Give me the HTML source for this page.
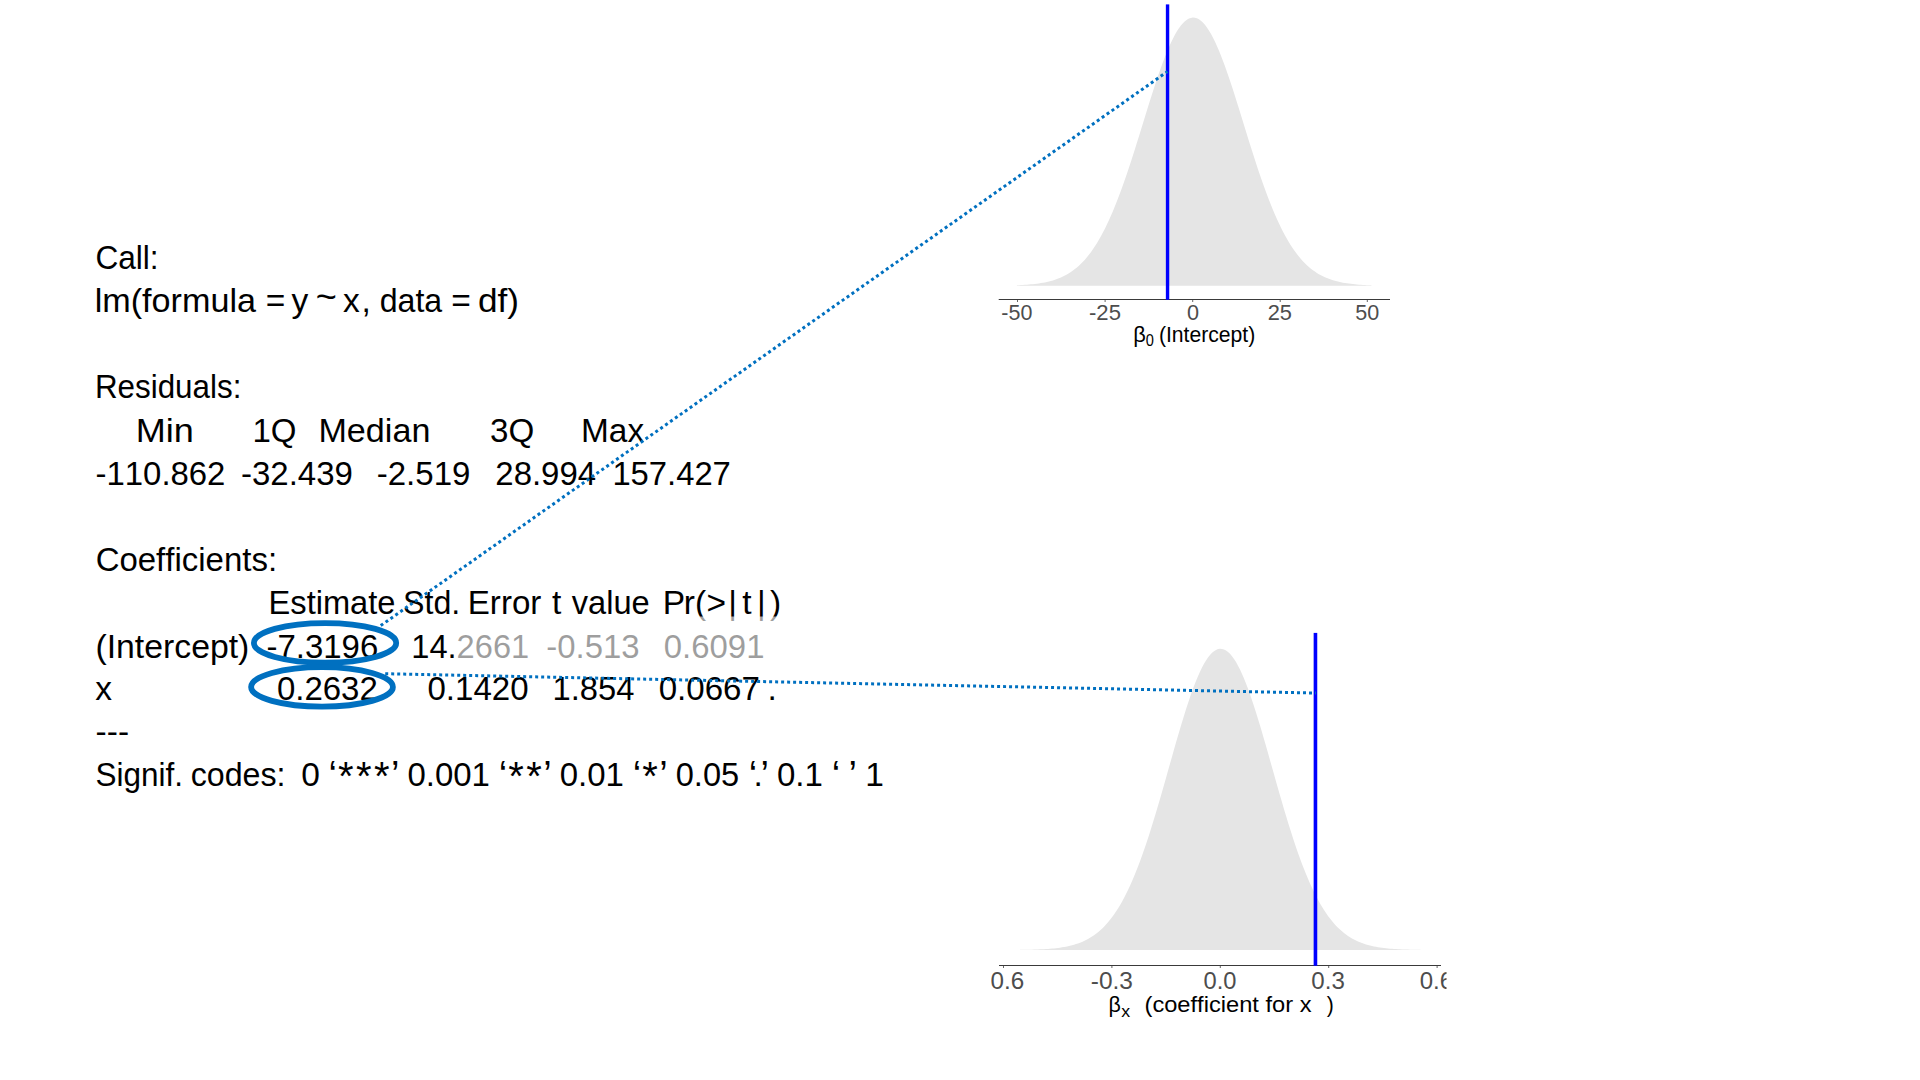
<!DOCTYPE html>
<html lang="en"><head><meta charset="utf-8"><title>lm summary</title>
<style>
html,body{margin:0;padding:0;background:#fff;width:1920px;height:1080px;overflow:hidden}
svg{position:absolute;left:0;top:0;display:block}
text{font-family:"Liberation Sans",sans-serif;font-kerning:none;white-space:pre}
</style></head><body>
<svg width="1920" height="1080" viewBox="0 0 1920 1080">
<defs><clipPath id="c2"><rect x="991" y="620" width="455.5" height="420"/></clipPath></defs>
<g id="charts">
<path d="M1016.9,285.80 L1016.9,285.24 L1018.9,285.15 L1020.9,285.06 L1022.9,284.95 L1024.9,284.83 L1026.9,284.69 L1028.9,284.53 L1030.9,284.36 L1032.9,284.16 L1034.9,283.94 L1036.9,283.69 L1038.9,283.42 L1040.9,283.11 L1042.9,282.77 L1044.9,282.39 L1046.9,281.96 L1048.9,281.49 L1050.9,280.97 L1052.9,280.40 L1054.9,279.77 L1056.9,279.08 L1058.9,278.31 L1060.9,277.48 L1062.9,276.56 L1064.9,275.57 L1066.9,274.48 L1068.9,273.29 L1070.9,272.01 L1072.9,270.61 L1074.9,269.11 L1076.9,267.48 L1078.9,265.72 L1080.9,263.83 L1082.9,261.80 L1084.9,259.63 L1086.9,257.30 L1088.9,254.82 L1090.9,252.17 L1092.9,249.36 L1094.9,246.37 L1096.9,243.20 L1098.9,239.86 L1100.9,236.33 L1102.9,232.61 L1104.9,228.70 L1106.9,224.61 L1108.9,220.32 L1110.9,215.85 L1112.9,211.18 L1114.9,206.34 L1116.9,201.31 L1118.9,196.10 L1120.9,190.73 L1122.9,185.20 L1124.9,179.51 L1126.9,173.68 L1128.9,167.71 L1130.9,161.63 L1132.9,155.44 L1134.9,149.16 L1136.9,142.80 L1138.9,136.39 L1140.9,129.93 L1142.9,123.45 L1144.9,116.97 L1146.9,110.52 L1148.9,104.10 L1150.9,97.75 L1152.9,91.48 L1154.9,85.33 L1156.9,79.30 L1158.9,73.44 L1160.9,67.75 L1162.9,62.26 L1164.9,57.00 L1166.9,51.99 L1168.9,47.25 L1170.9,42.80 L1172.9,38.66 L1174.9,34.84 L1176.9,31.37 L1178.9,28.26 L1180.9,25.53 L1182.9,23.19 L1184.9,21.24 L1186.9,19.70 L1188.9,18.58 L1190.9,17.88 L1192.9,17.60 L1194.9,17.75 L1196.9,18.33 L1198.9,19.32 L1200.9,20.74 L1202.9,22.56 L1204.9,24.79 L1206.9,27.40 L1208.9,30.40 L1210.9,33.76 L1212.9,37.48 L1214.9,41.52 L1216.9,45.88 L1218.9,50.54 L1220.9,55.47 L1222.9,60.66 L1224.9,66.08 L1226.9,71.71 L1228.9,77.52 L1230.9,83.50 L1232.9,89.62 L1234.9,95.86 L1236.9,102.19 L1238.9,108.59 L1240.9,115.03 L1242.9,121.51 L1244.9,127.99 L1246.9,134.45 L1248.9,140.88 L1250.9,147.26 L1252.9,153.56 L1254.9,159.78 L1256.9,165.90 L1258.9,171.90 L1260.9,177.77 L1262.9,183.51 L1264.9,189.09 L1266.9,194.51 L1268.9,199.77 L1270.9,204.85 L1272.9,209.75 L1274.9,214.47 L1276.9,219.00 L1278.9,223.34 L1280.9,227.49 L1282.9,231.46 L1284.9,235.23 L1286.9,238.82 L1288.9,242.22 L1290.9,245.44 L1292.9,248.48 L1294.9,251.35 L1296.9,254.04 L1298.9,256.58 L1300.9,258.95 L1302.9,261.17 L1304.9,263.24 L1306.9,265.17 L1308.9,266.96 L1310.9,268.63 L1312.9,270.17 L1314.9,271.60 L1316.9,272.92 L1318.9,274.13 L1320.9,275.25 L1322.9,276.27 L1324.9,277.21 L1326.9,278.07 L1328.9,278.85 L1330.9,279.57 L1332.9,280.22 L1334.9,280.81 L1336.9,281.34 L1338.9,281.83 L1340.9,282.26 L1342.9,282.66 L1344.9,283.01 L1346.9,283.33 L1348.9,283.61 L1350.9,283.87 L1352.9,284.10 L1354.9,284.30 L1356.9,284.48 L1358.9,284.64 L1360.9,284.79 L1362.9,284.91 L1364.9,285.03 L1366.9,285.13 L1368.9,285.21 L1370.9,285.29 L1371.9,285.80 Z" fill="#E5E5E5"/>
<rect x="998.7" y="299" width="391.3" height="1" fill="#3a3a3a"/>
<rect x="1017.0" y="300" width="1" height="2" fill="#666"/>
<rect x="1104.6" y="300" width="1" height="2" fill="#666"/>
<rect x="1192.2" y="300" width="1" height="2" fill="#666"/>
<rect x="1279.7" y="300" width="1" height="2" fill="#666"/>
<rect x="1366.8" y="300" width="1" height="2" fill="#666"/>
<rect x="1165.85" y="4.4" width="3.4" height="295.4" fill="#0000FF"/>
<path d="M1020.0,950.00 L1020.0,949.85 L1022.0,949.82 L1024.0,949.79 L1026.0,949.76 L1028.0,949.72 L1030.0,949.68 L1032.0,949.63 L1034.0,949.57 L1036.0,949.51 L1038.0,949.43 L1040.0,949.35 L1042.0,949.26 L1044.0,949.15 L1046.0,949.03 L1048.0,948.90 L1050.0,948.74 L1052.0,948.57 L1054.0,948.38 L1056.0,948.17 L1058.0,947.93 L1060.0,947.66 L1062.0,947.36 L1064.0,947.02 L1066.0,946.65 L1068.0,946.24 L1070.0,945.79 L1072.0,945.29 L1074.0,944.73 L1076.0,944.12 L1078.0,943.45 L1080.0,942.71 L1082.0,941.90 L1084.0,941.02 L1086.0,940.05 L1088.0,939.00 L1090.0,937.85 L1092.0,936.60 L1094.0,935.25 L1096.0,933.79 L1098.0,932.20 L1100.0,930.50 L1102.0,928.66 L1104.0,926.68 L1106.0,924.56 L1108.0,922.28 L1110.0,919.85 L1112.0,917.26 L1114.0,914.49 L1116.0,911.55 L1118.0,908.43 L1120.0,905.13 L1122.0,901.63 L1124.0,897.94 L1126.0,894.05 L1128.0,889.97 L1130.0,885.68 L1132.0,881.19 L1134.0,876.49 L1136.0,871.60 L1138.0,866.50 L1140.0,861.21 L1142.0,855.72 L1144.0,850.05 L1146.0,844.19 L1148.0,838.16 L1150.0,831.97 L1152.0,825.62 L1154.0,819.12 L1156.0,812.50 L1158.0,805.75 L1160.0,798.90 L1162.0,791.97 L1164.0,784.97 L1166.0,777.91 L1168.0,770.83 L1170.0,763.74 L1172.0,756.65 L1174.0,749.60 L1176.0,742.60 L1178.0,735.69 L1180.0,728.88 L1182.0,722.19 L1184.0,715.66 L1186.0,709.30 L1188.0,703.14 L1190.0,697.21 L1192.0,691.52 L1194.0,686.10 L1196.0,680.98 L1198.0,676.17 L1200.0,671.70 L1202.0,667.57 L1204.0,663.82 L1206.0,660.46 L1208.0,657.49 L1210.0,654.95 L1212.0,652.83 L1214.0,651.14 L1216.0,649.90 L1218.0,649.10 L1220.0,648.76 L1222.0,648.88 L1224.0,649.44 L1226.0,650.46 L1228.0,651.93 L1230.0,653.83 L1232.0,656.17 L1234.0,658.92 L1236.0,662.09 L1238.0,665.65 L1240.0,669.59 L1242.0,673.89 L1244.0,678.54 L1246.0,683.50 L1248.0,688.78 L1250.0,694.33 L1252.0,700.14 L1254.0,706.19 L1256.0,712.45 L1258.0,718.90 L1260.0,725.52 L1262.0,732.27 L1264.0,739.14 L1266.0,746.09 L1268.0,753.12 L1270.0,760.19 L1272.0,767.28 L1274.0,774.37 L1276.0,781.45 L1278.0,788.48 L1280.0,795.45 L1282.0,802.34 L1284.0,809.14 L1286.0,815.82 L1288.0,822.39 L1290.0,828.81 L1292.0,835.09 L1294.0,841.20 L1296.0,847.14 L1298.0,852.91 L1300.0,858.49 L1302.0,863.88 L1304.0,869.07 L1306.0,874.07 L1308.0,878.86 L1310.0,883.46 L1312.0,887.85 L1314.0,892.03 L1316.0,896.02 L1318.0,899.81 L1320.0,903.40 L1322.0,906.80 L1324.0,910.02 L1326.0,913.05 L1328.0,915.90 L1330.0,918.58 L1332.0,921.09 L1334.0,923.44 L1336.0,925.64 L1338.0,927.69 L1340.0,929.59 L1342.0,931.37 L1344.0,933.01 L1346.0,934.53 L1348.0,935.94 L1350.0,937.24 L1352.0,938.43 L1354.0,939.53 L1356.0,940.54 L1358.0,941.47 L1360.0,942.31 L1362.0,943.09 L1364.0,943.79 L1366.0,944.43 L1368.0,945.01 L1370.0,945.54 L1372.0,946.02 L1374.0,946.45 L1376.0,946.84 L1378.0,947.19 L1380.0,947.51 L1382.0,947.79 L1384.0,948.05 L1386.0,948.28 L1388.0,948.48 L1390.0,948.66 L1392.0,948.82 L1394.0,948.97 L1396.0,949.09 L1398.0,949.21 L1400.0,949.31 L1402.0,949.39 L1404.0,949.47 L1406.0,949.54 L1408.0,949.60 L1410.0,949.65 L1412.0,949.70 L1414.0,949.74 L1416.0,949.78 L1418.0,949.81 L1420.0,949.83 L1421.0,950.00 Z" fill="#E5E5E5"/>
<rect x="999" y="965" width="442" height="1" fill="#3a3a3a"/>
<rect x="1003.0" y="966" width="1" height="2" fill="#666"/>
<rect x="1111.4" y="966" width="1" height="2" fill="#666"/>
<rect x="1219.8" y="966" width="1" height="2" fill="#666"/>
<rect x="1328.2" y="966" width="1" height="2" fill="#666"/>
<rect x="1436.6" y="966" width="1" height="2" fill="#666"/>
<rect x="1313.65" y="632.9" width="3.6" height="332.9" fill="#0000FF"/>
<text x="1001.30" y="320.00" font-size="21.4" textLength="31.04" lengthAdjust="spacingAndGlyphs" fill="#4D4D4D">-50</text>
<text x="1089.02" y="320.00" font-size="21.4" textLength="31.91" lengthAdjust="spacingAndGlyphs" fill="#4D4D4D">-25</text>
<text x="1186.90" y="320.00" font-size="21.4" textLength="12.04" lengthAdjust="spacingAndGlyphs" fill="#4D4D4D">0</text>
<text x="1267.65" y="320.00" font-size="21.4" textLength="24.26" lengthAdjust="spacingAndGlyphs" fill="#4D4D4D">25</text>
<text x="1355.39" y="320.00" font-size="21.4" textLength="23.95" lengthAdjust="spacingAndGlyphs" fill="#4D4D4D">50</text>
<text x="1133.28" y="341.95" font-size="21.6" textLength="12.58" lengthAdjust="spacingAndGlyphs" fill="#000">β</text>
<text x="1145.63" y="345.80" font-size="15.6" textLength="8.14" lengthAdjust="spacingAndGlyphs" fill="#000">0</text>
<text x="1158.89" y="341.95" font-size="21.6" textLength="96.42" lengthAdjust="spacingAndGlyphs" fill="#000">(Intercept)</text>
<g clip-path="url(#c2)">
<text x="982.42" y="988.60" font-size="24.0" textLength="41.74" lengthAdjust="spacingAndGlyphs" fill="#4D4D4D">-0.6</text>
<text x="1090.81" y="988.60" font-size="24.0" textLength="42.16" lengthAdjust="spacingAndGlyphs" fill="#4D4D4D">-0.3</text>
<text x="1203.57" y="988.60" font-size="24.0" textLength="32.95" lengthAdjust="spacingAndGlyphs" fill="#4D4D4D">0.0</text>
<text x="1311.31" y="988.60" font-size="24.0" textLength="33.50" lengthAdjust="spacingAndGlyphs" fill="#4D4D4D">0.3</text>
<text x="1419.66" y="988.60" font-size="24.0" textLength="33.39" lengthAdjust="spacingAndGlyphs" fill="#4D4D4D">0.6</text>
</g>
<text x="1108.51" y="1012.25" font-size="21.8" textLength="12.34" lengthAdjust="spacingAndGlyphs" fill="#000">β</text>
<text x="1121.30" y="1017.25" font-size="17.0" textLength="8.89" lengthAdjust="spacingAndGlyphs" fill="#000">x</text>
<text x="1144.53" y="1012.25" font-size="21.8" textLength="166.97" lengthAdjust="spacingAndGlyphs" fill="#000">(coefficient for x</text>
<text x="1326.78" y="1012.25" font-size="21.8" textLength="7.03" lengthAdjust="spacingAndGlyphs" fill="#000">)</text>
</g>
<g id="summary">
<text x="95.39" y="269.00" font-size="33.5" textLength="63.27" lengthAdjust="spacingAndGlyphs" fill="#000">Call:</text>
<text x="94.70" y="312.00" font-size="33.5" textLength="161.30" lengthAdjust="spacingAndGlyphs" fill="#000">lm(formula</text>
<text x="265.84" y="312.00" font-size="33.5" fill="#000">=</text>
<text x="291.55" y="312.00" font-size="33.5" fill="#000">y</text>
<text x="315.67" y="312.00" font-size="33.5" fill="#000"><tspan font-size="36.0" dy="-3.50">~</tspan></text>
<text x="342.91" y="312.00" font-size="33.5" fill="#000">x</text>
<text x="361.42" y="312.00" font-size="33.5" fill="#000">,</text>
<text x="379.65" y="312.00" font-size="33.5" textLength="62.55" lengthAdjust="spacingAndGlyphs" fill="#000">data</text>
<text x="451.29" y="312.00" font-size="33.5" fill="#000">=</text>
<text x="478.02" y="312.00" font-size="33.5" textLength="41.08" lengthAdjust="spacingAndGlyphs" fill="#000">df)</text>
<text x="94.93" y="398.00" font-size="33.5" textLength="146.43" lengthAdjust="spacingAndGlyphs" fill="#000">Residuals:</text>
<text x="135.79" y="442.00" font-size="33.5" textLength="58.14" lengthAdjust="spacingAndGlyphs" fill="#000">Min</text>
<text x="252.49" y="442.00" font-size="33.5" textLength="44.03" lengthAdjust="spacingAndGlyphs" fill="#000">1Q</text>
<text x="318.45" y="442.00" font-size="33.5" textLength="111.93" lengthAdjust="spacingAndGlyphs" fill="#000">Median</text>
<text x="490.04" y="442.00" font-size="33.5" textLength="44.23" lengthAdjust="spacingAndGlyphs" fill="#000">3Q</text>
<text x="581.06" y="442.00" font-size="33.5" textLength="63.05" lengthAdjust="spacingAndGlyphs" fill="#000">Max</text>
<text x="95.54" y="485.00" font-size="33.5" textLength="129.88" lengthAdjust="spacingAndGlyphs" fill="#000">-110.862</text>
<text x="241.03" y="485.00" font-size="33.5" textLength="111.84" lengthAdjust="spacingAndGlyphs" fill="#000">-32.439</text>
<text x="376.78" y="485.00" font-size="33.5" textLength="93.59" lengthAdjust="spacingAndGlyphs" fill="#000">-2.519</text>
<text x="495.34" y="485.00" font-size="33.5" textLength="100.75" lengthAdjust="spacingAndGlyphs" fill="#000">28.994</text>
<text x="612.40" y="485.00" font-size="33.5" textLength="118.47" lengthAdjust="spacingAndGlyphs" fill="#000">157.427</text>
<text x="95.63" y="571.00" font-size="33.5" textLength="181.46" lengthAdjust="spacingAndGlyphs" fill="#000">Coefficients:</text>
<text x="268.58" y="614.00" font-size="33.5" textLength="126.85" lengthAdjust="spacingAndGlyphs" fill="#000">Estimate</text>
<text x="403.04" y="614.00" font-size="33.5" textLength="57.26" lengthAdjust="spacingAndGlyphs" fill="#000">Std.</text>
<text x="467.78" y="614.00" font-size="33.5" textLength="73.64" lengthAdjust="spacingAndGlyphs" fill="#000">Error</text>
<text x="552.03" y="614.00" font-size="33.5" fill="#000">t</text>
<text x="571.69" y="614.00" font-size="33.5" textLength="78.00" lengthAdjust="spacingAndGlyphs" fill="#000">value</text>
<text x="662.78 683.67 694.97 706.43 728.35 742.23 757.00 770.04" y="614.00" font-size="33.5" fill="#000">Pr(&gt;|t|)</text>
<text x="95.40" y="658.00" font-size="33.5" textLength="153.98" lengthAdjust="spacingAndGlyphs" fill="#000">(Intercept)</text>
<text x="266.54" y="658.00" font-size="33.5" textLength="111.70" lengthAdjust="spacingAndGlyphs" fill="#000">-7.3196</text>
<text x="411.26" y="658.00" font-size="33.5" textLength="117.94" lengthAdjust="spacingAndGlyphs" fill="#000">14.2661</text>
<text x="546.24" y="658.00" font-size="33.5" textLength="93.33" lengthAdjust="spacingAndGlyphs" fill="#000">-0.513</text>
<text x="663.81" y="658.00" font-size="33.5" textLength="100.69" lengthAdjust="spacingAndGlyphs" fill="#000">0.6091</text>
<text x="95.26" y="700.00" font-size="33.5" fill="#000">x</text>
<text x="276.96" y="700.00" font-size="33.5" textLength="100.83" lengthAdjust="spacingAndGlyphs" fill="#000">0.2632</text>
<text x="427.46" y="700.00" font-size="33.5" textLength="101.06" lengthAdjust="spacingAndGlyphs" fill="#000">0.1420</text>
<text x="552.51" y="700.00" font-size="33.5" textLength="81.83" lengthAdjust="spacingAndGlyphs" fill="#000">1.854</text>
<text x="658.71" y="700.00" font-size="33.5" textLength="101.21" lengthAdjust="spacingAndGlyphs" fill="#000">0.0667</text>
<text x="767.62" y="700.00" font-size="33.5" fill="#000">.</text>
<text x="95.61" y="743.00" font-size="33.5" textLength="33.40" lengthAdjust="spacingAndGlyphs" fill="#000">---</text>
<text x="95.54" y="786.00" font-size="33.5" textLength="87.59" lengthAdjust="spacingAndGlyphs" fill="#000">Signif.</text>
<text x="190.63" y="786.00" font-size="33.5" textLength="94.88" lengthAdjust="spacingAndGlyphs" fill="#000">codes:</text>
<text x="301.33" y="786.00" font-size="33.5" fill="#000">0</text>
<text x="328.57 338.05 355.99 373.93 391.12" y="786.00" font-size="33.5" fill="#000"><tspan font-size="38.0" dy="2.00">‘</tspan><tspan font-size="40.0" dy="1.50">*</tspan><tspan font-size="40.0">*</tspan><tspan font-size="40.0">*</tspan><tspan font-size="38.0" dy="-1.50">’</tspan></text>
<text x="407.47" y="786.00" font-size="33.5" textLength="82.44" lengthAdjust="spacingAndGlyphs" fill="#000">0.001</text>
<text x="498.73 508.21 526.15 543.33" y="786.00" font-size="33.5" fill="#000"><tspan font-size="38.0" dy="2.00">‘</tspan><tspan font-size="40.0" dy="1.50">*</tspan><tspan font-size="40.0">*</tspan><tspan font-size="38.0" dy="-1.50">’</tspan></text>
<text x="559.69" y="786.00" font-size="33.5" textLength="64.19" lengthAdjust="spacingAndGlyphs" fill="#000">0.01</text>
<text x="632.70 642.18 659.37" y="786.00" font-size="33.5" fill="#000"><tspan font-size="38.0" dy="2.00">‘</tspan><tspan font-size="40.0" dy="1.50">*</tspan><tspan font-size="38.0" dy="-1.50">’</tspan></text>
<text x="675.74" y="786.00" font-size="33.5" textLength="63.43" lengthAdjust="spacingAndGlyphs" fill="#000">0.05</text>
<text x="748.73 753.57 760.55" y="786.00" font-size="33.5" fill="#000"><tspan font-size="38.0" dy="2.00">‘</tspan><tspan dy="-2.00">.</tspan><tspan font-size="38.0" dy="2.00">’</tspan></text>
<text x="776.91" y="786.00" font-size="33.5" textLength="45.95" lengthAdjust="spacingAndGlyphs" fill="#000">0.1</text>
<text x="831.67" y="786.00" font-size="33.5" fill="#000"><tspan font-size="38.0" dy="2.00">‘</tspan></text>
<text x="848.54" y="786.00" font-size="33.5" fill="#000"><tspan font-size="38.0" dy="2.00">’</tspan></text>
<text x="865.35" y="786.00" font-size="33.5" fill="#000">1</text>
</g>
<rect x="454.6" y="616.5" width="340" height="51" fill="#fff" fill-opacity="0.62"/>
<ellipse cx="325.05" cy="642.9" rx="71.15" ry="19.85" fill="none" stroke="#0070C0" stroke-width="5.8"/><ellipse cx="322.0" cy="686.9" rx="70.9" ry="19.75" fill="none" stroke="#0070C0" stroke-width="5.8"/>
<line x1="380.7" y1="625.6" x2="1167.4" y2="71.6" stroke="#0070C0" stroke-width="3" stroke-dasharray="3 3"/><line x1="385.2" y1="673.75" x2="1315.9" y2="693.05" stroke="#0070C0" stroke-width="3" stroke-dasharray="3 3"/>
</svg>
</body></html>
